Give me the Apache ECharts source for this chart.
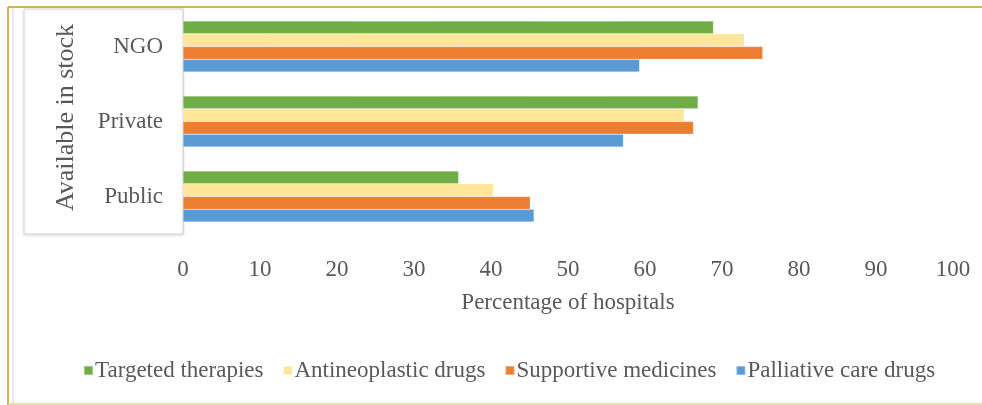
<!DOCTYPE html>
<html>
<head>
<meta charset="utf-8">
<script src="https://cdn.jsdelivr.net/npm/echarts@6/dist/echarts.min.js"></script>
<style>
  html, body { margin: 0; padding: 0; background: #fff; }
  #chart { width: 982px; height: 405px; }
</style>
</head>
<body>
<div id="chart"></div>
<script>
// data
const categories = ['Public', 'Private', 'NGO']
const palliative = [45.6, 57.2, 59.3]
const supportive = [45.1, 66.3, 75.3]
const antineoplastic = [40.3, 65.1, 72.9]
const targeted = [35.8, 66.9, 68.9]
const legendOrder = ['Targeted therapies', 'Antineoplastic drugs', 'Supportive medicines', 'Palliative care drugs']

const font = '"Liberation Serif", "DejaVu Serif", serif'
const textColor = '#595959'

const chart = echarts.init(document.getElementById('chart'))

const bar = (name, data, color) => ({
  name,
  type: 'bar',
  data,
  barGap: '0%',
  barCategoryGap: '32%',
  itemStyle: { color, borderColor: 'rgba(255,255,255,0.35)', borderWidth: 0.6 },
})

const option = {
  backgroundColor: '#fff',
  animation: false,
  grid: { left: 183, right: 29, top: 9, bottom: 171, containLabel: false },
  graphic: [
    // outer frame bits
    { type: 'line', z: -10, shape: { x1: 8, y1: 7, x2: 982, y2: 7 }, style: { stroke: '#c49a1c', lineWidth: 1.5 } },
    { type: 'line', z: -10, shape: { x1: 8, y1: 7, x2: 8, y2: 405 }, style: { stroke: '#c49a1c', lineWidth: 1.5 } },
    { type: 'line', z: -10, shape: { x1: 13, y1: 8, x2: 13, y2: 405 }, style: { stroke: '#e2e2e2', lineWidth: 1.5 } },
    { type: 'line', z: -10, shape: { x1: 8, y1: 404, x2: 982, y2: 404 }, style: { stroke: '#e3d39a', lineWidth: 1.5 } },
    // box round the axis title and categories
    {
      type: 'rect', z: -5,
      shape: { x: 24, y: 9, width: 159, height: 225 },
      style: { fill: '#fff', stroke: '#d9d9d9', lineWidth: 1, shadowBlur: 3, shadowColor: 'rgba(0,0,0,0.12)', shadowOffsetY: 1 },
    },
  ],
  legend: {
    data: legendOrder,
    left: 78,
    top: 354,
    itemWidth: 9,
    itemHeight: 9,
    itemGap: 19,
    icon: 'rect',
    textStyle: { fontFamily: font, fontSize: 23, color: textColor, padding: [0, 0, 0, -3] },
  },
  xAxis: {
    type: 'value',
    min: 0,
    max: 100,
    interval: 10,
    name: 'Percentage of hospitals',
    nameLocation: 'middle',
    nameGap: 57,
    nameTextStyle: { fontFamily: font, fontSize: 23, color: textColor },
    axisLine: { show: false },
    axisTick: { show: false },
    splitLine: { show: false },
    axisLabel: { fontFamily: font, fontSize: 23, color: textColor, margin: 24 },
  },
  yAxis: {
    type: 'category',
    data: categories,
    name: 'Available in stock',
    nameLocation: 'middle',
    nameRotate: 90,
    nameGap: 104,
    nameTextStyle: { fontFamily: font, fontSize: 26, color: textColor, padding: [0, 0, 0, 8] },
    axisLine: { show: true, lineStyle: { color: '#d9d9d9', width: 1 } },
    axisTick: { show: false },
    axisLabel: { fontFamily: font, fontSize: 23, color: textColor, margin: 20 },
  },
  // first series sits on top of each group
  series: [
    bar('Targeted therapies', targeted, '#70ad47'),
    bar('Antineoplastic drugs', antineoplastic, '#ffe699'),
    bar('Supportive medicines', supportive, '#ed7d31'),
    bar('Palliative care drugs', palliative, '#5b9bd5'),
  ],
}

chart.setOption(option)
window.addEventListener('resize', () => chart.resize())
</script>
</body>
</html>
